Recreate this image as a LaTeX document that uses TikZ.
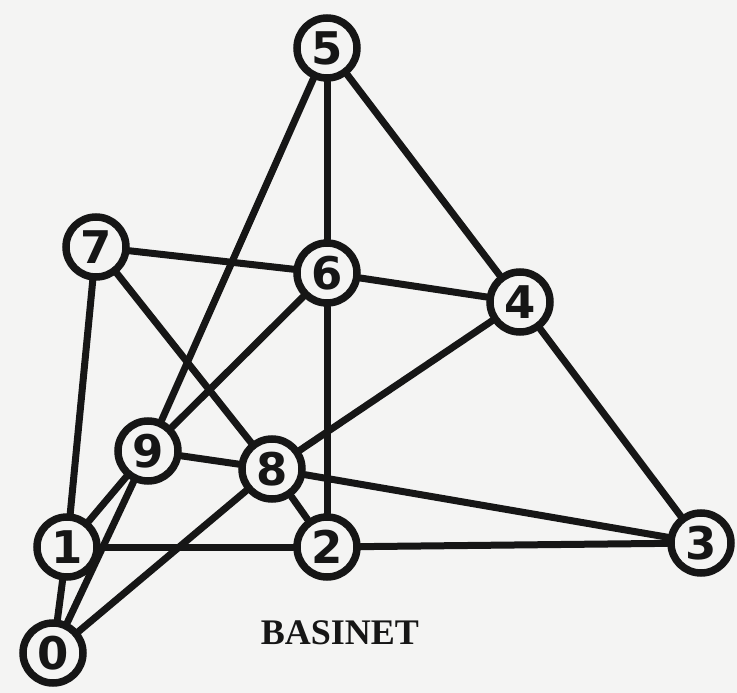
\documentclass[tikz,border=0pt]{standalone}
\usepackage{fontspec}
\setmainfont{Liberation Serif}
\newfontfamily\digitfont{DejaVu Sans}
\usetikzlibrary{backgrounds}
\definecolor{paper}{RGB}{244,244,243}
\definecolor{ink}{RGB}{22,22,22}
\tikzset{
  vtx/.style={circle, draw=ink, fill=paper, line width=7.5pt, minimum size=60pt,
    inner sep=0pt, font=\digitfont\bfseries\fontsize{45}{45}\selectfont, text=ink},
  edge/.style={draw=ink, line width=7pt, line cap=round},
  caption/.style={font=\fontsize{36}{36}\selectfont\bfseries, text=ink, inner sep=0pt}
}
\begin{document}
\begin{tikzpicture}[x=1pt,y=-1pt]
\useasboundingbox (0,0) rectangle (737,693);
\node[vtx] (n5) at (327,48) {5};
\node[vtx] (n7) at (96,247) {7};
\node[vtx] (n6) at (327,273) {6};
\node[vtx] (n4) at (520,302) {4};
\node[vtx] (n9) at (148,451) {9};
\node[vtx] (n8) at (272,469) {8};
\node[vtx] (n1) at (67,547) {1};
\node[vtx] (n2) at (327,547) {2};
\node[vtx] (n3) at (701,543) {3};
\node[vtx] (n0) at (53,653) {0};
\node[caption] (cap) at (340,633) {BASINET};
\begin{pgfonlayer}{background}
\fill[paper] (0,0) rectangle (737,693);
\draw[edge] (n5) -- (n6);
\draw[edge] (n5) -- (n4);
\draw[edge] (n5) -- (n9);
\draw[edge] (n7) -- (n6);
\draw[edge] (n7) -- (n8);
\draw[edge] (n7) -- (n1);
\draw[edge] (n6) -- (n4);
\draw[edge] (n6) -- (n2);
\draw[edge] (n6) -- (n9);
\draw[edge] (n4) -- (n8);
\draw[edge] (n4) -- (n3);
\draw[edge] (n8) -- (n3);
\draw[edge] (n8) -- (n2);
\draw[edge] (n8) -- (n9);
\draw[edge] (n8) -- (n0);
\draw[edge] (n1) -- (n2);
\draw[edge] (n2) -- (n3);
\draw[edge] (n1) -- (n9);
\draw[edge] (n1) -- (n0);
\draw[edge] (n0) -- (n9);
\end{pgfonlayer}
\end{tikzpicture}
\end{document}
